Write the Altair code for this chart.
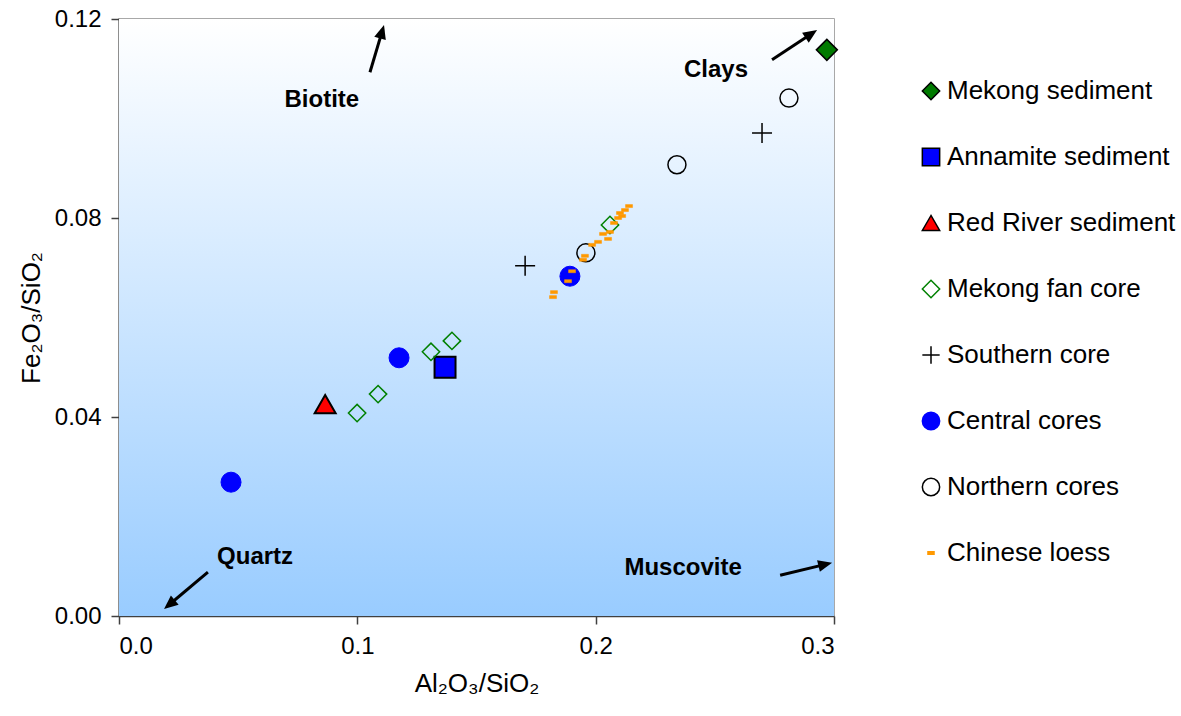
import math
import altair as alt
import pandas as pd

# ---------------- data ----------------
series_names = ["Mekong sediment", "Annamite sediment", "Red River sediment",
                "Mekong fan core", "Southern core", "Central cores",
                "Northern cores", "Chinese loess"]

mekong_sed_x = [0.297]
mekong_sed_y = [0.1138]
annamite_x = [0.1368]
annamite_y = [0.0500]
red_river_x = [0.0865]
red_river_y = [0.0426]
fan_core_x = [0.0999, 0.1087, 0.1309, 0.1397, 0.2060]
fan_core_y = [0.0408, 0.0446, 0.0531, 0.0553, 0.0786]
southern_x = [0.1704, 0.2698]
southern_y = [0.0704, 0.0971]
central_x = [0.0470, 0.1175, 0.1892]
central_y = [0.0269, 0.0519, 0.0683]
northern_x = [0.1959, 0.2341, 0.2811]
northern_y = [0.0730, 0.0907, 0.1041]
loess_x = [0.1821, 0.1825, 0.1884, 0.1901, 0.1947, 0.1955, 0.1985, 0.2010,
           0.2052, 0.2031, 0.2060, 0.2077, 0.2094, 0.2111, 0.2102, 0.2123, 0.2140]
loess_y = [0.0641, 0.0651, 0.0673, 0.0693, 0.0716, 0.0724, 0.0746, 0.0752,
           0.0758, 0.0768, 0.0772, 0.0790, 0.0800, 0.0804, 0.0810, 0.0816, 0.0824]

x_ticks = [0.0, 0.1, 0.2, 0.3]
y_ticks = [0.00, 0.04, 0.08, 0.12]

# annotations (data coordinates)
label_text = ["Biotite", "Clays", "Quartz", "Muscovite"]
label_x = [0.0851, 0.2505, 0.0571, 0.2367]
label_y = [0.1037, 0.1097, 0.0119, 0.0096]
arrow_x0 = [0.1053, 0.2740, 0.0373, 0.2774]
arrow_y0 = [0.1093, 0.1118, 0.0088, 0.0082]
arrow_x1 = [0.1112, 0.2929, 0.0189, 0.2992]
arrow_y1 = [0.1188, 0.1178, 0.0014, 0.0107]

# ---------------- styling ----------------
W, H = 715, 597
X_MAX, Y_MAX = 0.3, 0.12
FONT = "Liberation Sans"

PLUS = "M-1,0L1,0M0,-1L0,1"
DASH = "M-0.35,-0.15L0.35,-0.15L0.35,0.15L-0.35,0.15Z"
HEAD = "M0,0L0.6,1.4L-0.6,1.4Z"

shapes = ["diamond", "square", "triangle-up", "diamond", PLUS, "circle", "circle", DASH]
fills = ["#007A00", "#0000FF", "#FF0000", "transparent", "transparent", "#0000FF",
         "transparent", "#FF9900"]
strokes = ["#000000", "#000000", "#000000", "#008000", "#000000", "#0000FF",
           "#000000", "#FF9900"]
sizes = [440, 440, 440, 300, 400, 400, 324, 400]
stroke_widths = [1.5, 2, 2, 1.5, 1.5, 1, 1.5, 0.5]

xs = [mekong_sed_x, annamite_x, red_river_x, fan_core_x, southern_x, central_x, northern_x, loess_x]
ys = [mekong_sed_y, annamite_y, red_river_y, fan_core_y, southern_y, central_y, northern_y, loess_y]
rows = []
for name, xl, yl in zip(series_names, xs, ys):
    for a, b in zip(xl, yl):
        rows.append({"series": name, "x": a, "y": b})
pts = pd.DataFrame(rows)

# arrows: compute angle in pixel space; shorten shaft so it ends inside the head
arows = []
for x0, y0, x1, y1 in zip(arrow_x0, arrow_y0, arrow_x1, arrow_y1):
    dxp = (x1 - x0) * W / X_MAX
    dyp = -(y1 - y0) * H / Y_MAX
    L = math.hypot(dxp, dyp)
    ang = math.degrees(math.atan2(dxp, -dyp)) % 360
    back = 9.0 / L
    xe = x1 - (x1 - x0) * back
    ye = y1 - (y1 - y0) * back
    arows.append({"x": x0, "y": y0, "x2": xe, "y2": ye, "hx": x1, "hy": y1, "angle": ang})
arr = pd.DataFrame(arows)

labels = pd.DataFrame({"text": label_text, "x": label_x, "y": label_y})
bg = pd.DataFrame({"x": [0.0], "x2": [X_MAX], "y": [0.0], "y2": [Y_MAX]})

xscale = alt.Scale(domain=[0, X_MAX], nice=False, zero=False)
yscale = alt.Scale(domain=[0, Y_MAX], nice=False, zero=False)
xaxis = alt.Axis(values=x_ticks, format=".1f", title="Al₂O₃/SiO₂", grid=False)
yaxis = alt.Axis(values=y_ticks, format=".2f", title="Fe₂O₃/SiO₂", grid=False)
X = alt.X("x:Q", scale=xscale, axis=xaxis)
Y = alt.Y("y:Q", scale=yscale, axis=yaxis)

grad = alt.LinearGradient(
    gradient="linear",
    stops=[alt.GradientStop(color="#FFFFFF", offset=0),
           alt.GradientStop(color="#99CCFF", offset=1)],
    x1=0, x2=0, y1=0, y2=1)

background = alt.Chart(bg).mark_rect(color=grad).encode(x=X, x2="x2:Q", y=Y, y2="y2:Q")

shafts = alt.Chart(arr).mark_rule(color="black", strokeWidth=3).encode(
    x=X, x2="x2:Q", y=Y, y2="y2:Q")
heads = alt.Chart(arr).mark_point(shape=HEAD, filled=True, color="black", size=400,
                                  opacity=1).encode(
    x=alt.X("hx:Q", scale=xscale, axis=xaxis),
    y=alt.Y("hy:Q", scale=yscale, axis=yaxis),
    angle=alt.Angle("angle:Q", scale=None))

leg = alt.Legend(orient="none", legendX=799, legendY=59, title=None,
                 labelFont=FONT, labelFontSize=26, labelColor="black", labelLimit=400,
                 symbolSize=300, symbolStrokeWidth=1.5, rowPadding=40,
                 labelOffset=3, padding=0)

shape_enc = alt.Shape("series:N", scale=alt.Scale(domain=series_names, range=shapes),
                      legend=leg)
fill_enc = alt.Fill("series:N", scale=alt.Scale(domain=series_names, range=fills),
                    legend=leg)
stroke_enc = alt.Stroke("series:N", scale=alt.Scale(domain=series_names, range=strokes),
                        legend=leg)

point_layers = []
for name, sz, sw in zip(series_names, sizes, stroke_widths):
    point_layers.append(
        alt.Chart(pts).transform_filter(alt.datum.series == name)
        .mark_point(opacity=1, size=sz, strokeWidth=sw)
        .encode(x=X, y=Y, shape=shape_enc, fill=fill_enc, stroke=stroke_enc)
    )

texts = alt.Chart(labels).mark_text(font=FONT, fontSize=24, fontWeight="bold",
                                    color="black").encode(x=X, y=Y, text="text:N")

chart = alt.layer(background, shafts, heads, *point_layers, texts).properties(
    width=W, height=H,
    autosize=alt.AutoSizeParams(type="none"),
    padding={"left": 119, "top": 19, "right": 347, "bottom": 100},
).configure_view(
    stroke="#8C8C8C", strokeWidth=1.5
).configure_axis(
    domainColor="#404040", domainWidth=1.5, tickColor="#404040", tickWidth=1.5,
    tickSize=8, labelFont=FONT, labelFontSize=24, labelColor="black",
    titleFont=FONT, titleFontSize=26, titleFontWeight="normal", titleColor="black",
).configure_axisX(
    labelPadding=10, titlePadding=12
).configure_axisY(
    labelPadding=10, titlePadding=10
)

chart.save("out.html", embed_options={"renderer": "svg", "actions": False})
